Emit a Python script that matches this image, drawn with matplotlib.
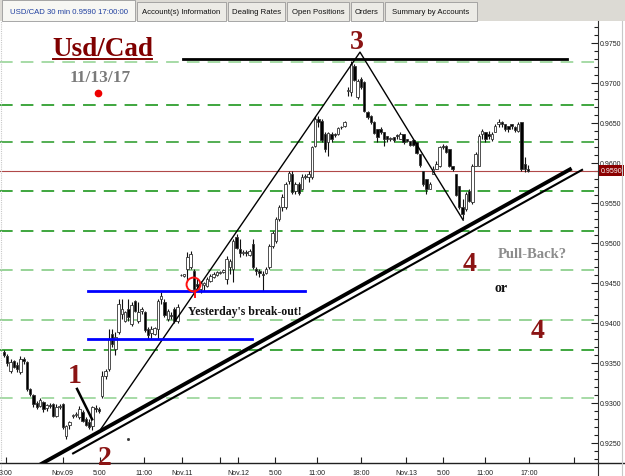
import matplotlib
matplotlib.use("Agg")
import matplotlib.pyplot as plt
from matplotlib.patches import Rectangle
from matplotlib.lines import Line2D
from matplotlib.ticker import FormatStrFormatter, MultipleLocator
import matplotlib.transforms as mtrans
import numpy as np

plt.rcParams['font.family'] = ['Liberation Sans', 'DejaVu Sans']

# ---------------- data: USD/CAD 30-min candles ----------------
opens = [0.9363, 0.9358, 0.9339, 0.9352, 0.9347, 0.9338, 0.9354, 0.9351, 0.9317, 0.9309,
         0.9299, 0.9296, 0.9301, 0.9293, 0.9297, 0.9298, 0.9283, 0.9294, 0.9298, 0.9258,
         0.9272, 0.9283, 0.9284, 0.9282, 0.9288, 0.9279, 0.9276, 0.9271, 0.9293, 0.9292,
         0.9308, 0.9333, 0.9342, 0.9386, 0.9367, 0.9388, 0.9411, 0.9402, 0.9417, 0.9398,
         0.9427, 0.9402, 0.9414, 0.9413, 0.9392, 0.9387, 0.9386, 0.9392, 0.9429, 0.9426,
         0.9404, 0.9409, 0.9417, 0.9402, 0.9459, 0.9458, 0.9467, 0.9469, 0.9464, 0.9448,
         0.9442, 0.9447, 0.9446, 0.9452, 0.9457, 0.9459, 0.9462, 0.9463, 0.9454, 0.9469,
         0.9467, 0.9507, 0.9492, 0.9487, 0.9488, 0.9484, 0.9498, 0.9467, 0.9464, 0.9461,
         0.9462, 0.9469, 0.9496, 0.9502, 0.9529, 0.9544, 0.9544, 0.9577, 0.9586, 0.9564,
         0.9573, 0.9567, 0.9582, 0.9582, 0.9582, 0.9621, 0.9654, 0.9652, 0.9636, 0.9626,
         0.9636, 0.9636, 0.9636, 0.9644, 0.9646, 0.9689, 0.9688, 0.9721, 0.9682, 0.9704,
         0.9701, 0.9663, 0.9658, 0.9651, 0.9642, 0.9642, 0.9638, 0.9633, 0.9629, 0.9632,
         0.9634, 0.9629, 0.9636, 0.9629, 0.9627, 0.9628, 0.9626, 0.9611, 0.9589, 0.9579,
         0.9567, 0.9586, 0.9592, 0.9596, 0.9621, 0.9621, 0.9617, 0.9596, 0.9586, 0.9571,
         0.9544, 0.9542, 0.9564, 0.9551, 0.9596, 0.9596, 0.9636, 0.9638, 0.9636, 0.9629,
         0.9638, 0.9648, 0.9651, 0.9648, 0.9646, 0.9648, 0.9644, 0.9639, 0.9651, 0.9598,
         0.9592]
highs = [0.9366, 0.9361, 0.9354, 0.9353, 0.9351, 0.9358, 0.9357, 0.9352, 0.9318, 0.9311,
         0.9302, 0.9306, 0.9302, 0.9298, 0.9299, 0.9299, 0.9298, 0.9298, 0.9299, 0.9272,
         0.9277, 0.9286, 0.9288, 0.9296, 0.9291, 0.9282, 0.9279, 0.9296, 0.9297, 0.9294,
         0.9339, 0.9342, 0.9392, 0.9392, 0.9388, 0.9429, 0.9429, 0.9414, 0.9429, 0.9426,
         0.9428, 0.9426, 0.9419, 0.9414, 0.9394, 0.9396, 0.9394, 0.9429, 0.9438, 0.9429,
         0.9417, 0.9413, 0.9419, 0.9423, 0.9461, 0.9461, 0.9488, 0.9489, 0.9467, 0.9454,
         0.9452, 0.9451, 0.9457, 0.9461, 0.9463, 0.9464, 0.9464, 0.9467, 0.9483, 0.9479,
         0.9504, 0.9511, 0.9504, 0.9491, 0.9491, 0.9492, 0.9504, 0.9469, 0.9467, 0.9464,
         0.9469, 0.9498, 0.9514, 0.9532, 0.9547, 0.9561, 0.9576, 0.9589, 0.9589, 0.9576,
         0.9576, 0.9586, 0.9586, 0.9589, 0.9621, 0.9658, 0.9658, 0.9654, 0.9638, 0.9638,
         0.9638, 0.9637, 0.9644, 0.9646, 0.9652, 0.9694, 0.9727, 0.9723, 0.9704, 0.9707,
         0.9702, 0.9664, 0.9659, 0.9652, 0.9642, 0.9644, 0.9638, 0.9633, 0.9632, 0.9632,
         0.9636, 0.9638, 0.9636, 0.9629, 0.9627, 0.9629, 0.9626, 0.9611, 0.9589, 0.9579,
         0.9576, 0.9596, 0.9602, 0.9621, 0.9623, 0.9622, 0.9617, 0.9596, 0.9586, 0.9571,
         0.9554, 0.9563, 0.9567, 0.9598, 0.9613, 0.9636, 0.9642, 0.9638, 0.9639, 0.9638,
         0.9648, 0.9654, 0.9652, 0.9648, 0.9646, 0.9648, 0.9646, 0.9651, 0.9651, 0.9607,
         0.9597]
lows = [0.9357, 0.9346, 0.9337, 0.9343, 0.9338, 0.9336, 0.9348, 0.9314, 0.9308, 0.9294,
        0.9292, 0.9294, 0.9288, 0.9289, 0.9293, 0.9282, 0.9282, 0.9292, 0.9267, 0.9254,
        0.9267, 0.9281, 0.9282, 0.9279, 0.9276, 0.9271, 0.9267, 0.9266, 0.9288, 0.9287,
        0.9306, 0.9329, 0.9339, 0.9369, 0.9359, 0.9386, 0.9404, 0.9401, 0.9402, 0.9396,
        0.9413, 0.9399, 0.9411, 0.9388, 0.9379, 0.9379, 0.9384, 0.9379, 0.9423, 0.9407,
        0.9402, 0.9404, 0.9399, 0.9399, 0.9458, 0.9457, 0.9452, 0.9467, 0.9439, 0.9439,
        0.9437, 0.9439, 0.9444, 0.9451, 0.9456, 0.9458, 0.9461, 0.9462, 0.9448, 0.9461,
        0.9451, 0.9492, 0.9482, 0.9484, 0.9483, 0.9483, 0.9467, 0.9459, 0.9457, 0.9439,
        0.9461, 0.9467, 0.9493, 0.9499, 0.9527, 0.9539, 0.9542, 0.9573, 0.9561, 0.9561,
        0.9559, 0.9567, 0.9579, 0.9576, 0.9579, 0.9619, 0.9644, 0.9626, 0.9613, 0.9608,
        0.9626, 0.9632, 0.9634, 0.9642, 0.9644, 0.9683, 0.9683, 0.9702, 0.9679, 0.9692,
        0.9663, 0.9654, 0.9648, 0.9636, 0.9626, 0.9636, 0.9621, 0.9626, 0.9627, 0.9626,
        0.9629, 0.9629, 0.9623, 0.9626, 0.9621, 0.9621, 0.9611, 0.9594, 0.9571, 0.9561,
        0.9567, 0.9586, 0.9592, 0.9594, 0.9617, 0.9612, 0.9594, 0.9589, 0.9558, 0.9542,
        0.9529, 0.9539, 0.9551, 0.9548, 0.9596, 0.9596, 0.9629, 0.9626, 0.9629, 0.9627,
        0.9638, 0.9644, 0.9644, 0.9639, 0.9638, 0.9642, 0.9638, 0.9638, 0.9589, 0.9588,
        0.9588]
closes = [0.9359, 0.9349, 0.9351, 0.9344, 0.9342, 0.9354, 0.9352, 0.9317, 0.9311, 0.9298,
          0.9294, 0.9303, 0.9292, 0.9297, 0.9296, 0.9283, 0.9294, 0.9296, 0.9269, 0.9271,
          0.9276, 0.9284, 0.9286, 0.9292, 0.9277, 0.9272, 0.9269, 0.9294, 0.9292, 0.9289,
          0.9333, 0.9339, 0.9379, 0.9373, 0.9382, 0.9423, 0.9417, 0.9413, 0.9407, 0.9422,
          0.9414, 0.9413, 0.9417, 0.9391, 0.9384, 0.9392, 0.9393, 0.9427, 0.9433, 0.9409,
          0.9414, 0.9408, 0.9402, 0.9419, 0.9459, 0.9461, 0.9482, 0.9486, 0.9442, 0.9446,
          0.9449, 0.9449, 0.9454, 0.9458, 0.9461, 0.9463, 0.9463, 0.9466, 0.9479, 0.9477,
          0.9502, 0.9493, 0.9487, 0.9488, 0.9487, 0.9489, 0.9469, 0.9464, 0.9462, 0.9459,
          0.9467, 0.9496, 0.9512, 0.9529, 0.9544, 0.9557, 0.9573, 0.9587, 0.9563, 0.9573,
          0.9562, 0.9582, 0.9583, 0.9586, 0.9619, 0.9654, 0.9651, 0.9628, 0.9617, 0.9637,
          0.9629, 0.9634, 0.9643, 0.9644, 0.9651, 0.9691, 0.9723, 0.9703, 0.9702, 0.9694,
          0.9664, 0.9657, 0.9651, 0.9637, 0.9632, 0.9638, 0.9629, 0.9629, 0.9631, 0.9628,
          0.9633, 0.9636, 0.9626, 0.9627, 0.9622, 0.9622, 0.9612, 0.9597, 0.9573, 0.9567,
          0.9573, 0.9592, 0.9598, 0.9619, 0.9619, 0.9613, 0.9596, 0.9592, 0.9559, 0.9544,
          0.9536, 0.9561, 0.9552, 0.9596, 0.9611, 0.9633, 0.9639, 0.9629, 0.9633, 0.9636,
          0.9646, 0.9651, 0.9648, 0.9642, 0.9642, 0.9646, 0.9641, 0.9648, 0.9592, 0.9592,
          0.9590]

# time axis (bar index) tick positions and labels
xtick_pos = [0.6, 17.9, 29.2, 42.6, 54.4, 71.5, 82.8, 95.7, 109.0, 122.8, 134.1, 146.9, 160.3]
xtick_labels = ["3:00", "Nov.09", "5:00", "11:00", "Nov.11", "Nov.12", "5:00", "11:00",
                "18:00", "Nov.13", "5:00", "11:00", "17:00"]
xtick_extra = [66.0, 174.0]
x_range = [-1.22, 181.37]
y_range = [0.92244, 0.97769]

# horizontal reference levels (green dashed)
level_prices = [0.97253, 0.96719, 0.96253, 0.95640, 0.95140, 0.94656, 0.94031, 0.93656, 0.93052]
level_colors = ['#9fd89f', '#2f9f2f', '#45a845', '#2f9f2f', '#2f9f2f', '#8fd08f', '#8fd08f',
                '#2f9f2f', '#9fd89f']
last_price = 0.9590

# drawn analysis (wave count, trend lines)
wave_x = [29.6, 108.7, 140.2]
wave_y = [0.9267, 0.9738, 0.9528]
wave1_x = [22.3, 26.9]
wave1_y = [0.9317, 0.9279]
top_x = [54.7, 171.9]
top_y = [0.9729, 0.9729]
blue_hi_x = [25.6, 91.9]
blue_hi_y = [0.9439, 0.9439]
blue_lo_x = [25.6, 75.7]
blue_lo_y = [0.9379, 0.9379]
support_thick_x = [10.4, 172.8]
support_thick_y = [0.92210, 0.95914]
support_thin_x = [21.1, 176.5]
support_thin_y = [0.92364, 0.95908]
breakout_x, breakout_y = 57.7, 0.9448
pin_x, pin_y = [58.3, 58.3], [0.9439, 0.9432]
dot_x, dot_y = 28.7, 0.9687
speck_x, speck_y = 37.9, 0.9254

# ---------------- figure ----------------
W, H = 625, 477
fig = plt.figure(figsize=(W / 100, H / 100), dpi=100)
fig.patch.set_facecolor('white')


def fpos(x, y):
    return x / W, 1 - y / H


ax = fig.add_axes([0, 1 - 464 / H, 598 / W, 442 / H])
ax.set_facecolor('white')
ax.set_xlim(*x_range)
ax.set_ylim(*y_range)

# levels
for p, col in zip(level_prices, level_colors):
    ax.axhline(p, color=col, lw=1.3, ls=(0, (7, 4.5)), zorder=1)
ax.axhline(last_price, color='#b04848', lw=0.8, zorder=2)

# candles
x = np.arange(len(opens))
o = np.array(opens); c = np.array(closes)
ax.vlines(x, lows, highs, color='#111111', lw=0.8, zorder=3)
bottoms = np.minimum(o, c)
heights = np.maximum(np.abs(c - o), 0.00008)
cols = ['white' if cc > oo else 'black' for oo, cc in zip(o, c)]
ax.bar(x, heights, bottom=bottoms, width=0.75, color=cols, edgecolor='#333333',
       linewidth=0.6, zorder=4)

# analysis lines
ax.plot(wave_x, wave_y, color='black', lw=1.0, zorder=5)
ax.plot(wave1_x, wave1_y, color='black', lw=1.8, zorder=5)
ax.plot(top_x, top_y, color='black', lw=2.0, zorder=5)
ax.plot(blue_hi_x, blue_hi_y, color='#0000ff', lw=2.0, zorder=5)
ax.plot(blue_lo_x, blue_lo_y, color='#0000ff', lw=2.0, zorder=5)
ax.plot(support_thick_x, support_thick_y, color='black', lw=2.8, zorder=5)
ax.plot(support_thin_x, support_thin_y, color='black', lw=1.5, zorder=5)
ax.plot([breakout_x], [breakout_y], 'o', mfc='none', mec='#ff1010', ms=10, mew=1.4, zorder=6)
ax.plot(pin_x, pin_y, color='#ff1010', lw=1.4, zorder=6)
ax.plot([dot_x], [dot_y], 'o', color='#ee0000', ms=4.5, zorder=6)
ax.plot([speck_x], [speck_y], 's', color='#333333', ms=1.0, zorder=6)

# axes styling
for s in ('top', 'left'):
    ax.spines[s].set_visible(False)
ax.spines['right'].set_color('#303030')
ax.spines['right'].set_linewidth(0.8)
ax.spines['bottom'].set_color('#202020')
ax.spines['bottom'].set_linewidth(1.0)

ax.yaxis.tick_right()
ax.set_yticks(np.arange(0.925, 0.97501, 0.005))
ax.yaxis.set_major_formatter(FormatStrFormatter('%.4f'))
ax.yaxis.set_minor_locator(MultipleLocator(0.001))
ax.tick_params(axis='y', which='major', direction='in', length=5, width=0.8,
               labelsize=5, pad=1.5, colors='#202020')
ax.tick_params(axis='y', which='minor', direction='in', length=3, width=0.8, colors='#202020')

ax.set_xticks(xtick_pos)
ax.set_xticklabels(xtick_labels)
ax.set_xticks(xtick_extra, minor=True)
ax.tick_params(axis='x', which='both', direction='in', length=4, width=0.8,
               labelsize=5, pad=4, colors='#202020')

# last price tag
tr = mtrans.blended_transform_factory(ax.transAxes, ax.transData)
ax.text(1.004, last_price, f'{last_price:.4f}', transform=tr, color='white', fontsize=5,
        ha='left', va='center', clip_on=False, zorder=10,
        bbox=dict(boxstyle='square,pad=0.25', fc='#8b0000', ec='none'))

# frame extensions
fig.add_artist(Line2D([598 / W, 1], [1 - 464 / H] * 2, color='#202020', lw=1.0))
fig.add_artist(Line2D([598 / W] * 2, [0, 1 - 464 / H], color='#303030', lw=0.8))
fig.add_artist(Line2D([622 / W] * 2, [0, 1 - 22 / H], color='#c8c8c8', lw=0.8))
fig.add_artist(Line2D([1 / W] * 2, [0, 1 - 22 / H], color='#c8c8c8', lw=0.8, ls=(0, (1, 1))))

# tab strip
fig.add_artist(Rectangle((0, 1 - 22 / H), 1, 22 / H, transform=fig.transFigure,
                         fc='#dcdad4', ec='none', zorder=0))
tabs = [("USD/CAD 30 min 0.9590 17:00:00", 2, 135), ("Account(s) Information", 137, 226),
        ("Dealing Rates", 228, 285), ("Open Positions", 287, 349), ("Orders", 351, 383),
        ("Summary by Accounts", 385, 477)]
for k, (label, x0, x1) in enumerate(tabs):
    top = 1 if k == 0 else 3
    fc = '#f7f7f3' if k == 0 else '#ecebe6'
    fig.add_artist(Rectangle((x0 / W, 1 - 22 / H), (x1 - x0) / W, (22 - top) / H,
                             transform=fig.transFigure, fc=fc, ec='#9a9a9a', lw=0.6))
    fig.text((x0 + x1) / 2 / W, 1 - 12.5 / H, label, fontsize=5.6, ha='center', va='center',
             color='#2040a0' if k == 0 else '#111111')

# annotations (text)
serif = ['Liberation Serif', 'DejaVu Serif']
dred = '#8b1414'
fig.text(*fpos(102.5, 55.5), 'Usd/Cad', fontsize=19.5, fontweight='bold', family=serif,
         color='#800000', ha='center', va='baseline')
fig.add_artist(Line2D([53 / W, 152 / W], [1 - 59.5 / H] * 2, color='#800000', lw=1.4))
fig.text(*fpos(100, 82), '11/13/17', fontsize=12.5, fontweight='bold', family=serif,
         color='#7a7a7a', ha='center', va='baseline')
for s, (px, py) in zip(['1', '2', '3', '4', '4'],
                       [(75, 383), (105, 465), (357, 49), (470, 271), (538, 338)]):
    fig.text(*fpos(px, py), s, fontsize=20, fontweight='bold', family=serif, color=dred,
             ha='center', va='baseline')
fig.text(*fpos(245, 315), "Yesterday's break-out!", fontsize=8.5, fontweight='bold',
         family=serif, color='#111111', ha='center', va='baseline')
fig.text(*fpos(532, 258), 'Pull-Back?', fontsize=10.5, fontweight='bold', family=serif,
         color='#8c8c8c', ha='center', va='baseline')
fig.text(*fpos(501, 292), 'or', fontsize=10, fontweight='bold', family=serif,
         color='#111111', ha='center', va='baseline')

fig.savefig('out.png', dpi=100, facecolor='white')
